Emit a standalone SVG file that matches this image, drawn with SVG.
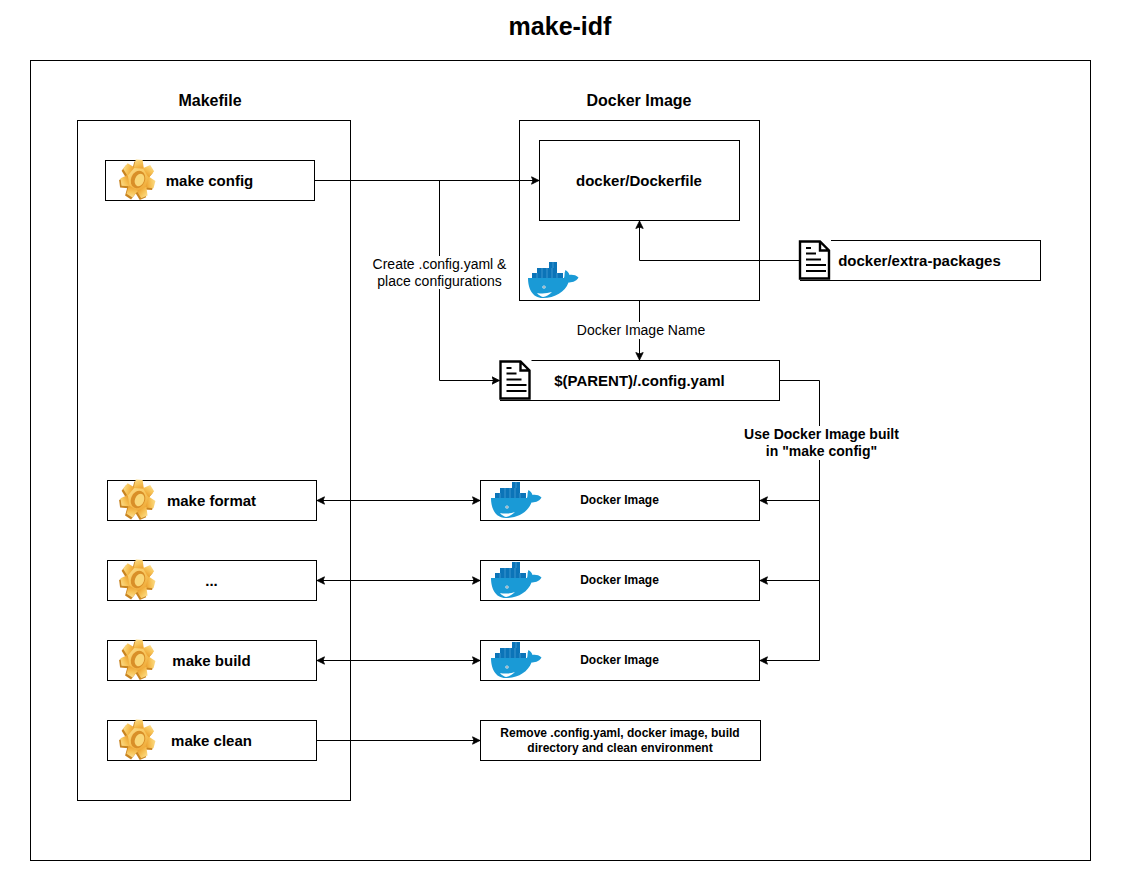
<svg xmlns="http://www.w3.org/2000/svg" width="1121" height="881" viewBox="0 0 1121 881">
<style>
.b{fill:#fff;stroke:#000;stroke-width:1}
text{font-family:"Liberation Sans",Arial,sans-serif;fill:#000;text-anchor:middle}
.t15{font-size:15px;font-weight:bold}
.t16{font-size:16px;font-weight:bold}
.t12{font-size:12px;font-weight:bold}
.t14{font-size:14px}
.t14b{font-size:14px;font-weight:bold}
.c{fill:none;stroke:#000;stroke-width:1}
</style>
<defs>
<marker id="a" markerUnits="userSpaceOnUse" markerWidth="9" markerHeight="9" refX="8" refY="4.500" orient="auto-start-reverse"><path d="M0.500 .8L8 4.500L0.500 8.200L2 4.500Z" fill="#000" stroke="#000" stroke-width=".8" stroke-linejoin="round"/></marker>
<linearGradient id="g" x1="0.15" y1="0" x2="0.75" y2="1"><stop offset="0" stop-color="#fbdc8a"/><stop offset="0.5" stop-color="#f7c458"/><stop offset="1" stop-color="#eda433"/></linearGradient>
<g id="cog"><circle r="13.500"/><path d="M-4 -20H4L6 -11H-6Z"/><path d="M-4 -20H4L6 -11H-6Z" transform="rotate(51.430)"/><path d="M-4 -20H4L6 -11H-6Z" transform="rotate(102.860)"/><path d="M-4 -20H4L6 -11H-6Z" transform="rotate(154.290)"/><path d="M-4 -20H4L6 -11H-6Z" transform="rotate(205.710)"/><path d="M-4 -20H4L6 -11H-6Z" transform="rotate(257.140)"/><path d="M-4 -20H4L6 -11H-6Z" transform="rotate(308.570)"/></g>
<symbol id="gear" viewBox="0 0 36 40" width="36" height="40" overflow="visible">
<g transform="translate(19 19) scale(.86 .96) rotate(4)">
<use href="#cog" x="-1.500" y="2" fill="#c98420"/>
<use href="#cog" fill="url(#g)"/>
</g>
<ellipse cx="19" cy="19.500" rx="7" ry="9" fill="#d98f28" transform="rotate(22 19 19.500)"/>
<ellipse cx="20.500" cy="20" rx="4.500" ry="6.500" fill="#f9d778" transform="rotate(22 20.500 20)"/>
</symbol>
<symbol id="whale" viewBox="0 0 52 36" width="52" height="36" overflow="visible">
<path d="M22 0h8v6h-8zM10 6h20v5h-20zM5 11h31v5h-31z" fill="#0b74b8"/>
<path d="M26 0v6M15 6v5M20 6v5M25 6v5M10 11v5M15 11v5M20 11v5M25 11v5M30 11v5" stroke="#5fb0e0" stroke-width=".6"/>
<path d="M1 16H37C38 14 37 11 38.500 8C41 9.500 42 11.500 42.500 13C45 12.500 49 13 51.500 15.500C49 20 44 20.500 41.500 20.500C38 30 28 36 16 36C5 36 1 26 1 16Z" fill="#1a9ad6"/>
<path d="M10 31C15 32 20 31.500 25 30C22 33 19 34.500 16 35C14 34.500 11.500 33 10 31Z" fill="#fff"/>
<circle cx="17" cy="25" r="1.600" fill="#fff"/><circle cx="17" cy="25" r=".7" fill="#12405c"/>
</symbol>
<symbol id="doc" viewBox="0 0 32 40" width="32" height="40" overflow="visible">
<rect x="0" y="0" width="32" height="40" fill="#fff"/>
<path d="M1 1.500H21L30 10.500V38.500H1ZM21 1.500V10.500H30" fill="#fff" stroke="#000" stroke-width="2.400" stroke-linejoin="miter"/>
<path d="M7 8H12M7 13.500H17M7 19.500H22M7 25H27M7 31H27" stroke="#000" stroke-width="1.800" fill="none"/>
</symbol>
</defs>
<rect width="1121" height="881" fill="#fff"/>
<text x="560" y="35" style="font-size:25px;font-weight:bold">make-idf</text>
<rect id="frame" class="b" x="30.500" y="60.500" width="1060" height="800"/>
<g id="makefile"><rect class="b" x="77.500" y="120.500" width="273" height="680"/><text class="t16" x="210" y="106">Makefile</text></g>
<g id="docker-image"><rect class="b" x="519.500" y="120.500" width="240" height="180"/><text class="t16" x="639" y="106">Docker Image</text><use href="#whale" x="527" y="262"/></g>
<g id="dockerfile"><rect class="b" x="539.500" y="140.500" width="200" height="80"/><text class="t15" x="639" y="186">docker/Dockerfile</text></g>
<g id="extra-packages"><rect class="b" x="800.500" y="240.500" width="240" height="40"/><use href="#doc" x="799" y="240"/><text class="t15" x="919.500" y="266">docker/extra-packages</text></g>
<g id="config-yaml"><rect class="b" x="500.500" y="360.500" width="279" height="40"/><use href="#doc" x="499.500" y="360"/><text class="t15" x="639.500" y="386">$(PARENT)/.config.yaml</text></g>
<g id="make-config"><rect class="b" x="105.500" y="160.500" width="209" height="40"/><use href="#gear" x="119" y="160"/><text class="t15" x="209.500" y="186">make config</text></g>
<g id="make-format"><rect class="b" x="107.500" y="480.500" width="209" height="40"/><use href="#gear" x="119" y="480"/><text class="t15" x="211.500" y="506">make format</text></g>
<g id="make-dots"><rect class="b" x="107.500" y="560.500" width="209" height="40"/><use href="#gear" x="119" y="560"/><text class="t15" x="211.500" y="586">...</text></g>
<g id="make-build"><rect class="b" x="107.500" y="640.500" width="209" height="40"/><use href="#gear" x="119" y="640"/><text class="t15" x="211.500" y="666">make build</text></g>
<g id="make-clean"><rect class="b" x="107.500" y="720.500" width="209" height="40"/><use href="#gear" x="119" y="720"/><text class="t15" x="211.500" y="746">make clean</text></g>
<g id="image-format"><rect class="b" x="480.500" y="480.500" width="279" height="40"/><use href="#whale" x="490" y="482"/><text class="t12" x="619.500" y="504">Docker Image</text></g>
<g id="image-dots"><rect class="b" x="480.500" y="560.500" width="279" height="40"/><use href="#whale" x="490" y="562"/><text class="t12" x="619.500" y="584">Docker Image</text></g>
<g id="image-build"><rect class="b" x="480.500" y="640.500" width="279" height="40"/><use href="#whale" x="490" y="642"/><text class="t12" x="619.500" y="664">Docker Image</text></g>
<g id="clean-note"><rect class="b" x="480.500" y="720.500" width="280" height="40"/><text class="t12" x="620" y="737">Remove .config.yaml, docker image, build</text><text class="t12" x="620" y="752">directory and clean environment</text></g>
<g id="connectors">
<path class="c" d="M314.500 180.500H539" marker-end="url(#a)"/>
<path class="c" d="M439.500 180.500V380.500H499.500" marker-end="url(#a)"/>
<path class="c" d="M799.500 260.500H639.500V221" marker-end="url(#a)"/>
<path class="c" d="M639.500 300.500V360" marker-end="url(#a)"/>
<path class="c" d="M779.500 380.500H819.500V660.500H760" marker-end="url(#a)"/>
<path class="c" d="M819.500 500.500H760" marker-end="url(#a)"/>
<path class="c" d="M819.500 580.500H760" marker-end="url(#a)"/>
<path class="c" d="M317 500.500H480" marker-start="url(#a)" marker-end="url(#a)"/>
<path class="c" d="M317 580.500H480" marker-start="url(#a)" marker-end="url(#a)"/>
<path class="c" d="M317 660.500H480" marker-start="url(#a)" marker-end="url(#a)"/>
<path class="c" d="M316.500 740.500H480" marker-end="url(#a)"/>
<rect x="372" y="256" width="136" height="33" fill="#fff"/>
<text class="t14" x="439.500" y="269">Create .config.yaml &amp;</text><text class="t14" x="439.500" y="286">place configurations</text>
<rect x="577" y="322" width="130" height="17" fill="#fff"/>
<text class="t14" x="641" y="335">Docker Image Name</text>
<rect x="744" y="426" width="155" height="34" fill="#fff"/>
<text class="t14b" x="821.500" y="439">Use Docker Image built</text><text class="t14b" x="821.500" y="456">in "make config"</text>
</g>
</svg>
